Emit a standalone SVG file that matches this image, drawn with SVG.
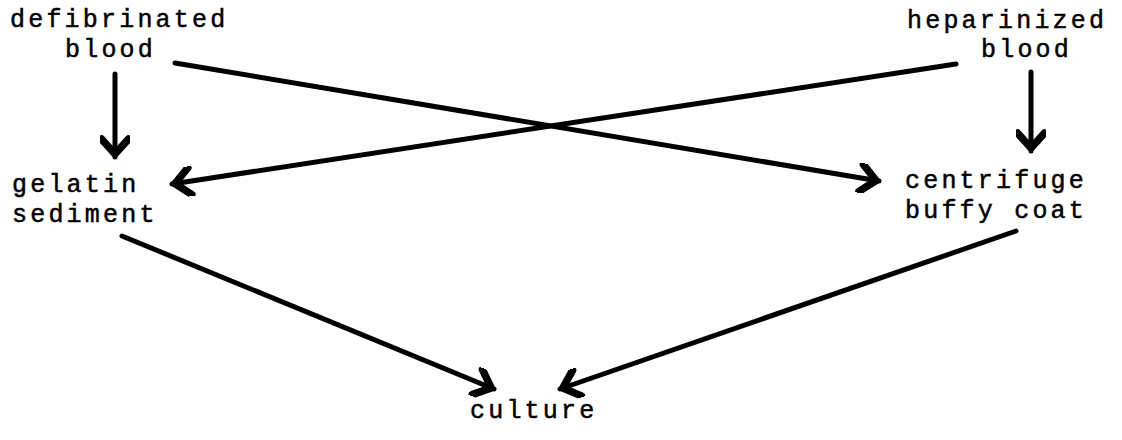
<svg xmlns="http://www.w3.org/2000/svg" width="1122" height="440" viewBox="0 0 1122 440">
<style>
text{font-family:"Liberation Mono","DejaVu Sans Mono",monospace;font-size:25px;letter-spacing:3.2px;fill:#000;stroke:#000;stroke-width:0.5}
.c{fill:none;stroke:#000;stroke-width:5;stroke-linecap:round}
</style>
<defs>
<marker id="ah" markerUnits="userSpaceOnUse" markerWidth="30" markerHeight="30" refX="15" refY="10" orient="auto" viewBox="0 0 20 20">
<path d="M3,1 L13,10 L3,19" fill="none" stroke="#000" stroke-width="5" stroke-linecap="round" stroke-linejoin="round"/>
</marker>
</defs>
<rect width="1122" height="440" fill="#fff"/>
<g id="defibrinated">
<text x="10" y="27">defibrinated</text>
<text x="65" y="57">blood</text>
</g>
<g id="heparinized">
<text x="907" y="28">heparinized</text>
<text x="981" y="57">blood</text>
</g>
<g id="gelatin">
<text x="12" y="192">gelatin</text>
<text x="12" y="222">sediment</text>
</g>
<g id="centrifuge">
<text x="905" y="188">centrifuge</text>
<text x="905" y="218">buffy coat</text>
</g>
<g id="culture">
<text x="470" y="418">culture</text>
</g>
<g id="connectors">
<path class="c" d="M115,74 L115,157" marker-end="url(#ah)"/>
<path class="c" d="M1031,72 L1031,151" marker-end="url(#ah)"/>
<path class="c" d="M175,63 L879,181" marker-end="url(#ah)"/>
<path class="c" d="M956,64 L172,184" marker-end="url(#ah)"/>
<path class="c" d="M122,236 L494,389" marker-end="url(#ah)"/>
<path class="c" d="M1016,231 L560,389" marker-end="url(#ah)"/>
</g>
</svg>
